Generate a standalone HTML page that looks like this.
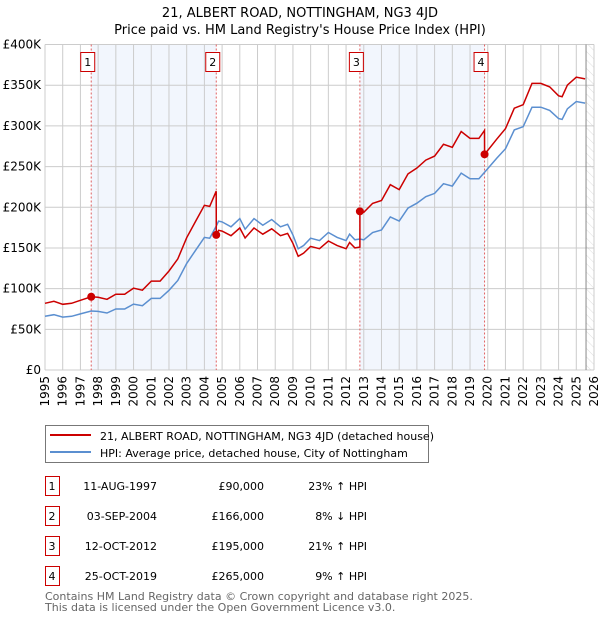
<!DOCTYPE html>
<html><head><meta charset="utf-8"><style>
body{margin:0;background:#fff;font-family:"DejaVu Sans","Liberation Sans",sans-serif;}
svg text{font-family:"DejaVu Sans","Liberation Sans",sans-serif;}
</style></head><body>
<svg id="c" width="600" height="620" xmlns="http://www.w3.org/2000/svg">
<defs><pattern id="hatch" width="6" height="6" patternUnits="userSpaceOnUse" patternTransform="rotate(-45)"><line x1="0" y1="0" x2="0" y2="6" stroke="#ddd" stroke-width="1"/></pattern></defs>
<text x="300" y="17" text-anchor="middle" font-size="13">21, ALBERT ROAD, NOTTINGHAM, NG3 4JD</text>
<text x="300" y="34" text-anchor="middle" font-size="13">Price paid vs. HM Land Registry's House Price Index (HPI)</text>
<g id="plot"></g>
<g>
<rect x="45.5" y="425.5" width="383" height="37" fill="#fff" stroke="#777"/>
<line x1="50" y1="435" x2="91" y2="435" stroke="#cc0000" stroke-width="2"/>
<text x="100" y="440" font-size="11">21, ALBERT ROAD, NOTTINGHAM, NG3 4JD (detached house)</text>
<line x1="50" y1="452" x2="91" y2="452" stroke="#5b8fd0" stroke-width="2"/>
<text x="100" y="457" font-size="11">HPI: Average price, detached house, City of Nottingham</text>
</g>
<g id="table" font-size="11"></g>
<text x="45" y="600" font-size="11" fill="#666">Contains HM Land Registry data © Crown copyright and database right 2025.</text>
<text x="45" y="611" font-size="11" fill="#666">This data is licensed under the Open Government Licence v3.0.</text>
</svg>
<script>
const hpiYears=[1995,1995.5,1996,1996.5,1997,1997.61,1998,1998.5,1999,1999.5,2000,2000.5,2001,2001.5,2002,2002.5,2003,2003.5,2004,2004.3,2004.67,2004.8,2005,2005.5,2006,2006.3,2006.8,2007.3,2007.8,2008.3,2008.7,2009,2009.3,2009.6,2010,2010.5,2011,2011.5,2012,2012.2,2012.5,2012.78,2013,2013.5,2014,2014.5,2015,2015.5,2016,2016.5,2017,2017.5,2018,2018.5,2019,2019.5,2019.82,2020.5,2021,2021.5,2022,2022.5,2023,2023.5,2024,2024.2,2024.5,2025,2025.5];
const hpiValues=[66,68,65,66,69,72.5,72,70,75,75,81,79,88,88,98,110,131,147,163,162,177,183,182,176,186,173,186,178,185,176,179,166,149,153,162,159,169,163,159,167,160,161,160,169,172,188,183,199,205,213,217,229,226,242,235,235,243,260,272,295,299,323,323,319,309,308,321,330,328];
const saleLabels=["1","2","3","4"];
const saleYears=[1997.61,2004.67,2012.78,2019.82];
const salePrices=[90,166,195,265];
const saleDates=["11-AUG-1997","03-SEP-2004","12-OCT-2012","25-OCT-2019"];
const salePriceText=["£90,000","£166,000","£195,000","£265,000"];
const saleHpiText=["23% ↑ HPI","8% ↓ HPI","21% ↑ HPI","9% ↑ HPI"];
const yTicks=[0,50,100,150,200,250,300,350,400];
const yTickLabels=["£0","£50K","£100K","£150K","£200K","£250K","£300K","£350K","£400K"];
const xTicks=[1995,1996,1997,1998,1999,2000,2001,2002,2003,2004,2005,2006,2007,2008,2009,2010,2011,2012,2013,2014,2015,2016,2017,2018,2019,2020,2021,2022,2023,2024,2025,2026];

const X0=45,X1=594,Y0=370,Y1=44.5;
const xs=y=>X0+(y-1995)/(2026-1995)*(X1-X0);
const ys=v=>Y0-v/400*(Y0-Y1);
const NS="http://www.w3.org/2000/svg";
const plot=document.getElementById('plot');
function mk(t,a,p){const e=document.createElementNS(NS,t);for(const k in a)e.setAttribute(k,a[k]);(p||plot).appendChild(e);return e;}
function hpiAt(t){for(let i=0;i<hpiYears.length-1;i++){if(t<=hpiYears[i+1]){const f=(t-hpiYears[i])/(hpiYears[i+1]-hpiYears[i]);return hpiValues[i]+f*(hpiValues[i+1]-hpiValues[i]);}}return hpiValues[hpiValues.length-1];}

for(let i=0;i<saleYears.length;i+=2){const r=mk('rect',{x:xs(saleYears[i]),y:Y1,width:xs(saleYears[i+1])-xs(saleYears[i]),height:Y0-Y1,fill:'#f2f6fd'});

}
const hr=mk('rect',{x:xs(2025.55),y:Y1,width:X1-xs(2025.55),height:Y0-Y1,fill:'url(#hatch)'});


xTicks.forEach(t=>{mk('line',{x1:xs(t),y1:Y1,x2:xs(t),y2:Y0,stroke:'#ccc','stroke-width':1});
const tx=mk('text',{x:0,y:0,'font-size':12,'text-anchor':'end',transform:`translate(${xs(t)+4},${Y0+6}) rotate(-90)`});tx.textContent=t;

});
yTicks.forEach((v,i)=>{mk('line',{x1:X0,y1:ys(v),x2:X1,y2:ys(v),stroke:'#ccc','stroke-width':1});
const tx=mk('text',{x:X0-4,y:ys(v)+4,'font-size':12,'text-anchor':'end'});tx.textContent=yTickLabels[i];

});
mk('line',{x1:xs(2025.55),y1:Y1,x2:xs(2025.55),y2:Y0,stroke:'#888','stroke-width':1});
saleYears.forEach((s,i)=>{mk('line',{x1:xs(s),y1:Y1,x2:xs(s),y2:Y0,stroke:'#e06060','stroke-width':1,'stroke-dasharray':'2,2'});
const b=mk('rect',{x:xs(s)-10.5,y:52.5,width:14,height:19,fill:'#fff',stroke:'#cc0000'});


const t=mk('text',{x:xs(s)-3.5,y:66,'font-size':11,'text-anchor':'middle'});t.textContent=saleLabels[i];});
let d='';hpiYears.forEach((t,i)=>{d+=(i?'L':'M')+xs(t).toFixed(1)+','+ys(hpiValues[i]).toFixed(1);});
const hl=mk('path',{d:d,fill:'none',stroke:'#5b8fd0','stroke-width':1.5});


function segIdx(t){let k=0;for(let i=0;i<saleYears.length;i++)if(t>=saleYears[i])k=i;return k;}
let pd='';const pts=[];
hpiYears.forEach(t=>{pts.push(t);});
saleYears.forEach(s=>{pts.push(s-0.001);});
pts.sort((a,b)=>a-b);
pts.forEach((t,i)=>{const k=segIdx(t);const v=salePrices[k]*hpiAt(t)/hpiAt(saleYears[k]);pd+=(i?'L':'M')+xs(t).toFixed(1)+','+ys(v).toFixed(1);});
const pl=mk('path',{d:pd,fill:'none',stroke:'#cc0000','stroke-width':1.5});


saleYears.forEach((s,i)=>{const c=mk('circle',{cx:xs(s),cy:ys(salePrices[i]),r:4,fill:'#cc0000'});

});
const tb=document.getElementById('table');
saleYears.forEach((s,i)=>{const y=476+i*30;
const b=mk('rect',{x:45.5,y:y+0.5,width:14,height:19,fill:'#fff',stroke:'#cc0000'},tb);


const cells=[[52,'middle',saleLabels[i]],[157,'end',saleDates[i]],[264,'end',salePriceText[i]],[367,'end',saleHpiText[i]]];
cells.forEach(c=>{const t=mk('text',{x:c[0],y:y+14,'text-anchor':c[1]},tb);t.textContent=c[2];

});});
</script>
</body></html>
